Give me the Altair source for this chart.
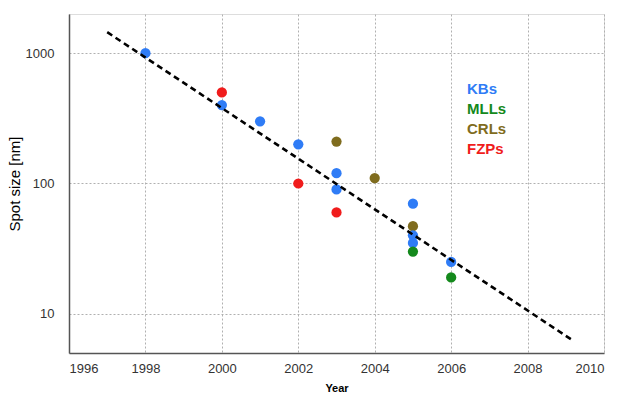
import altair as alt
import pandas as pd

# Data
years = [1998, 2000, 2000, 2001, 2002, 2002, 2003, 2003, 2003, 2003, 2004,
         2005, 2005, 2005, 2005, 2005, 2006, 2006]
spot = [1000, 500, 400, 300, 200, 100, 210, 120, 90, 60, 110,
        70, 47, 40, 35, 30, 25, 19]
optic = ["KBs", "FZPs", "KBs", "KBs", "KBs", "FZPs", "CRLs", "KBs", "KBs", "FZPs", "CRLs",
         "KBs", "CRLs", "KBs", "KBs", "MLLs", "KBs", "MLLs"]

trend_years = [1997.0, 2009.2]
trend_spot = [1450, 6.2]

categories = ["KBs", "MLLs", "CRLs", "FZPs"]
colors = ["#2f7cf6", "#14891c", "#7f6c1e", "#f01c1c"]

pts = pd.DataFrame({"Year": years, "Spot": spot, "Optic": optic})
trend = pd.DataFrame({"Year": trend_years, "Spot": trend_spot})

xscale = alt.Scale(domain=[1996, 2010], nice=False, zero=False)
yscale = alt.Scale(type="log", domain=[5, 2000], nice=False)

xaxis = alt.Axis(title="Year", values=list(range(1996, 2011, 2)), format="d",
                 grid=True, gridDash=[2, 2], gridColor="#b0b0b0",
                 ticks=False, labelPadding=9, titlePadding=7,
                 labelFontSize=13, labelFont="Liberation Sans", labelColor="#333333",
                 titleFontWeight="bold", titleFontSize=11,
                 domainColor="#555555", domainWidth=1.5)
yaxis = alt.Axis(title="Spot size [nm]", values=[10, 100, 1000], format="d",
                 grid=True, gridDash=[2, 2], gridColor="#b0b0b0",
                 ticks=False, labelPadding=15, titlePadding=3,
                 labelFontSize=13, labelFont="Liberation Sans", labelColor="#333333",
                 titleFontWeight="normal", titleFontSize=15,
                 domainColor="#555555", domainWidth=1.5)

points = alt.Chart(pts).mark_circle(size=105, opacity=1).encode(
    x=alt.X("Year:Q", scale=xscale, axis=xaxis),
    y=alt.Y("Spot:Q", scale=yscale, axis=yaxis),
    color=alt.Color(
        "Optic:N",
        scale=alt.Scale(domain=categories, range=colors),
        legend=alt.Legend(
            title=None, orient="none", legendX=383, legendY=67,
            symbolSize=0, symbolStrokeWidth=0, symbolOpacity=0,
            labelOffset=0, padding=0, rowPadding=4,
            labelFontSize=15, labelFontWeight="bold", labelFont="Liberation Sans",
            labelColor=alt.ExprRef("scale('color', datum.value)"),
        ),
    ),
)

line = alt.Chart(trend).mark_line(color="black", strokeDash=[6, 4], strokeWidth=2.6).encode(
    x=alt.X("Year:Q", scale=xscale),
    y=alt.Y("Spot:Q", scale=yscale),
)

chart = alt.layer(points, line).properties(
    width=535, height=339,
    autosize=alt.AutoSizeParams(type="none"),
    padding={"left": 69, "top": 14, "right": 14, "bottom": 42},
).configure_view(
    stroke="#999999", strokeWidth=1.5
).configure_axis(
    labelFont="Liberation Sans", titleFont="Liberation Sans",
    labelColor="#333333", titleColor="#222222",
).configure(background="white")

chart.save("out.html", embed_options={"renderer": "svg", "actions": False})
